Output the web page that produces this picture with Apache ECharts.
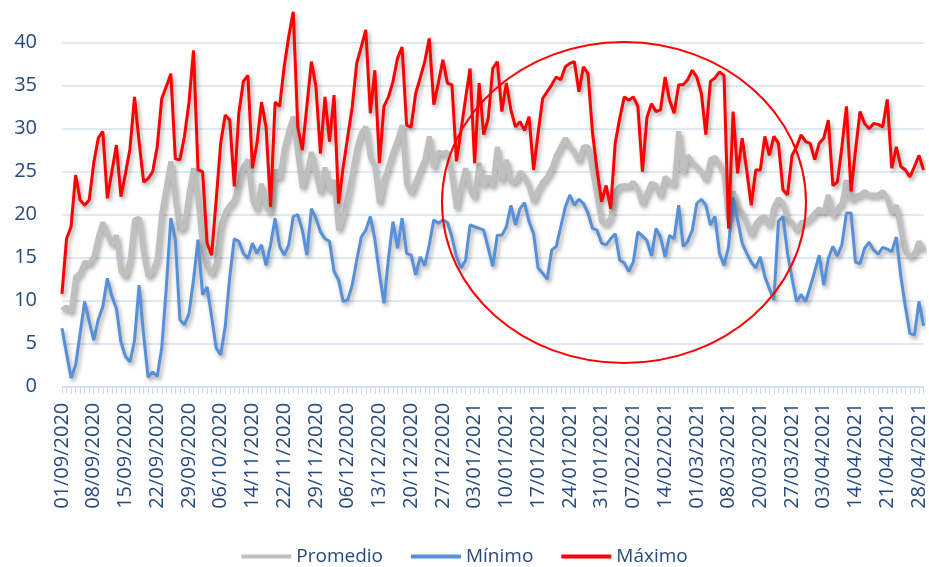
<!DOCTYPE html>
<html>
<head>
<meta charset="utf-8">
<script src="https://cdn.jsdelivr.net/npm/echarts@6/dist/echarts.min.js"></script>
<style>html,body{margin:0;padding:0;background:#fff;}#chart{width:929px;height:567px;}</style>
</head>
<body>
<div id="chart"></div>
<script>
const categories = [
'01/09/2020','02/09/2020','03/09/2020','04/09/2020','05/09/2020','06/09/2020','07/09/2020','08/09/2020','09/09/2020','10/09/2020',
'11/09/2020','12/09/2020','13/09/2020','14/09/2020','15/09/2020','16/09/2020','17/09/2020','18/09/2020','19/09/2020','20/09/2020',
'21/09/2020','22/09/2020','23/09/2020','24/09/2020','25/09/2020','26/09/2020','27/09/2020','28/09/2020','29/09/2020','30/09/2020',
'01/10/2020','02/10/2020','03/10/2020','04/10/2020','05/10/2020','06/10/2020','07/10/2020','08/10/2020','09/10/2020','10/10/2020',
'11/10/2020','12/10/2020',
'14/11/2020','15/11/2020','16/11/2020','17/11/2020','18/11/2020','19/11/2020','21/11/2020','22/11/2020','23/11/2020','24/11/2020',
'25/11/2020','26/11/2020','27/11/2020','28/11/2020','29/11/2020','30/11/2020',
'01/12/2020','02/12/2020','03/12/2020','04/12/2020','05/12/2020','06/12/2020','07/12/2020','08/12/2020','09/12/2020','10/12/2020',
'11/12/2020','12/12/2020','13/12/2020','14/12/2020','15/12/2020','16/12/2020','17/12/2020','18/12/2020','19/12/2020','20/12/2020',
'21/12/2020','22/12/2020','23/12/2020','24/12/2020','25/12/2020','26/12/2020','27/12/2020','28/12/2020','29/12/2020','30/12/2020',
'31/12/2020',
'01/01/2021','02/01/2021','03/01/2021','04/01/2021','05/01/2021','06/01/2021','07/01/2021','08/01/2021','09/01/2021','10/01/2021',
'11/01/2021','12/01/2021','13/01/2021','14/01/2021','15/01/2021','16/01/2021','17/01/2021','18/01/2021','19/01/2021','20/01/2021',
'21/01/2021','22/01/2021','23/01/2021','24/01/2021','25/01/2021','26/01/2021','27/01/2021','28/01/2021','29/01/2021','30/01/2021',
'31/01/2021',
'01/02/2021','02/02/2021','03/02/2021','04/02/2021','05/02/2021','06/02/2021','07/02/2021','08/02/2021','09/02/2021','10/02/2021',
'11/02/2021','12/02/2021','13/02/2021','14/02/2021','15/02/2021','16/02/2021','17/02/2021','18/02/2021','19/02/2021','20/02/2021',
'01/03/2021','02/03/2021','03/03/2021','04/03/2021','05/03/2021','06/03/2021','07/03/2021','08/03/2021','09/03/2021','10/03/2021',
'11/03/2021','12/03/2021','13/03/2021','14/03/2021',
'20/03/2021','21/03/2021','22/03/2021','23/03/2021','24/03/2021','25/03/2021','26/03/2021','27/03/2021','28/03/2021','29/03/2021',
'30/03/2021','31/03/2021',
'01/04/2021','02/04/2021','03/04/2021','04/04/2021','05/04/2021','06/04/2021','07/04/2021','08/04/2021','09/04/2021',
'14/04/2021','15/04/2021','16/04/2021','17/04/2021','18/04/2021','19/04/2021','20/04/2021','21/04/2021','22/04/2021','23/04/2021',
'24/04/2021','25/04/2021','26/04/2021','27/04/2021','28/04/2021','29/04/2021'
];

const promedio = [
8.9,9.3,8.7,12.8,13.2,14.5,14.3,15.1,17.4,19.1,17.8,16.5,17.6,13.4,12.8,14.7,19.4,19.6,15.5,12.8,13.4,14.9,20.2,23.3,26.2,
21.7,18.2,18.6,22.5,25.4,21.7,16.3,14.0,13.0,14.3,18.6,20.3,21.1,21.7,23.8,25.6,26.4,21.7,20.5,23.6,20.9,20.2,25.2,24.2,27.7,29.7,31.4,27.1,23.1,24.8,27.3,24.8,22.5,25.5,22.7,
24.0,18.2,19.8,22.1,24.8,27.7,29.5,30.2,26.7,25.6,21.3,24.0,25.6,27.3,28.7,30.4,23.6,22.5,23.8,25.2,26.4,29.1,25.4,27.3,27.1,27.3,24.4,20.7,23.3,25.4,22.9,21.9,26.0,23.3,24.5,
23.3,27.9,23.8,26.4,23.8,23.8,25.0,24.4,23.3,21.5,22.9,23.8,24.4,25.4,26.9,27.9,28.9,27.9,27.3,26.2,27.9,27.9,25.2,22.1,19.2,18.9,19.6,22.7,23.3,23.4,23.3,23.8,22.9,21.2,22.5,
23.7,23.4,22.1,24.4,23.8,23.4,29.7,24.8,26.9,26.0,25.6,25.0,24.0,26.4,26.7,25.8,24.8,19.4,22.7,20.9,20.2,19.0,17.6,19.0,19.6,19.8,18.6,20.9,21.9,21.3,19.4,
19.1,18.1,19.1,19.2,19.6,20.2,20.7,20.2,22.3,19.8,20.7,21.3,24.0,21.7,22.1,22.3,22.7,22.3,22.3,22.3,22.7,21.9,20.2,21.1,18.2,15.7,15.1,15.5,16.9,15.9
];

const minimo = [
6.8,3.9,1.0,2.5,6.2,9.9,7.6,5.4,7.8,9.3,12.6,10.5,9.1,5.2,3.5,2.9,5.4,11.8,6.0,1.1,1.7,1.2,4.5,11.5,19.6,
17.1,7.8,7.2,8.5,12.4,17.1,10.7,11.6,8.1,4.5,3.7,7.0,12.8,17.2,16.9,15.5,14.9,16.7,15.5,16.5,14.1,16.5,19.6,16.3,15.3,16.5,19.8,20.0,18.2,15.3,20.7,19.6,18.0,17.2,16.9,
13.4,12.4,9.9,10.1,11.8,14.7,17.4,18.2,19.8,17.1,13.2,9.7,14.9,19.2,16.1,19.6,15.5,15.3,13.0,15.1,14.1,16.5,19.4,19.0,19.4,19.1,17.4,15.1,13.8,14.7,18.8,18.6,18.4,18.2,16.1,
14.0,17.6,17.6,18.6,21.1,18.8,20.7,21.4,19.2,17.8,13.8,13.2,12.5,15.9,16.3,18.6,20.9,22.3,21.1,21.8,21.3,20.2,18.4,18.2,16.7,16.5,17.2,17.8,14.7,14.4,13.4,14.5,18.0,17.5,17.0,
15.2,18.4,17.4,15.1,17.6,17.2,21.1,16.3,16.9,18.2,21.3,21.8,21.1,18.8,19.8,15.5,14.1,16.3,22.0,19.4,16.7,15.5,14.5,13.8,15.1,12.8,11.4,10.1,19.2,19.8,15.5,
12.6,9.9,10.7,9.9,11.6,13.4,15.3,11.8,14.9,16.3,15.2,16.5,20.2,20.2,14.5,14.3,16.1,16.8,15.9,15.4,16.2,16.0,15.7,17.4,12.8,9.3,6.2,6.0,9.9,7.1
];

const maximo = [
10.8,17.2,18.6,24.6,21.7,21.1,21.7,26.0,28.9,29.7,21.9,25.0,28.1,22.1,24.8,27.7,33.7,28.5,23.8,24.2,25.0,27.9,33.5,34.9,36.4,
26.5,26.4,29.1,33.0,39.1,25.2,25.0,16.7,15.3,21.7,28.3,31.6,31.0,23.3,31.8,35.5,36.2,25.4,28.3,33.1,30.2,20.9,33.1,32.6,37.2,40.7,43.6,30.2,27.5,32.6,37.8,34.9,27.1,33.7,28.5,
33.9,21.3,25.5,29.0,32.5,37.6,39.5,41.5,31.8,36.8,26.0,32.6,33.7,35.5,38.2,39.5,30.4,30.2,34.1,35.9,37.8,40.5,32.8,35.3,38.0,35.3,35.1,26.2,29.8,33.5,37.0,26.0,35.3,29.3,31.2,
37.0,37.8,32.0,35.3,32.2,30.2,30.8,29.8,31.4,25.2,29.5,33.5,34.3,35.1,36.0,35.7,37.2,37.6,37.8,34.3,37.2,36.4,29.5,25.2,21.5,23.4,20.7,28.3,31.2,33.7,33.3,33.7,32.6,25.0,31.3,
32.9,32.0,32.2,36.0,33.3,31.8,35.1,35.1,35.7,36.8,36.0,34.1,29.3,35.5,35.9,36.6,36.2,18.4,32.0,24.8,28.9,25.2,21.1,25.2,25.2,29.1,26.9,29.1,28.3,22.9,22.3,
26.9,27.9,29.3,28.5,28.3,26.4,28.3,28.9,31.0,23.4,23.8,27.9,32.6,22.7,27.5,32.0,30.6,30.0,30.6,30.5,30.2,33.4,25.4,27.9,25.6,25.2,24.4,25.6,26.9,25.2
];

const seriesNames = ['Promedio', 'Mínimo', 'Máximo'];
const yTicks = { min: 0, max: 40, interval: 5 };

const textColor = '#264a7e';
const fontFamily = '"Open Sans", "Liberation Sans", sans-serif';
const shadow = { shadowColor: 'rgba(0,0,0,0.35)', shadowBlur: 4, shadowOffsetX: 2, shadowOffsetY: 3 };

const chart = echarts.init(document.getElementById('chart'), null, { renderer: 'canvas' });
chart.setOption({
  animation: false,
  backgroundColor: '#ffffff',
  textStyle: { fontFamily: fontFamily },
  grid: { left: 62, right: 4, top: 42.7, bottom: 180.3, containLabel: false },
  legend: {
    data: seriesNames,
    bottom: -4,
    left: 'center',
    icon: 'rect',
    itemWidth: 50,
    itemHeight: 4,
    itemGap: 28,
    textStyle: { color: textColor, fontSize: 19, fontFamily: fontFamily, padding: [0, 0, 0, 0] }
  },
  xAxis: {
    type: 'category',
    data: categories,
    boundaryGap: false,
    axisLine: { show: true, lineStyle: { color: '#d5e0f0', width: 1.5 } },
    axisTick: { show: true, interval: 0, length: 7, lineStyle: { color: '#cbd9ee', width: 1 } },
    axisLabel: { interval: 6, rotate: 90, margin: 16, color: textColor, fontSize: 20, fontFamily: fontFamily }
  },
  yAxis: {
    type: 'value',
    min: yTicks.min,
    max: yTicks.max,
    interval: yTicks.interval,
    axisLine: { show: false },
    axisTick: { show: false },
    axisLabel: { margin: 25, color: textColor, fontSize: 20, fontFamily: fontFamily },
    splitLine: { show: true, lineStyle: { color: '#d5e0f0', width: 1.5 } }
  },
  series: [
    { name: seriesNames[0], type: 'line', data: promedio, symbol: 'none', color: '#bfbfbf', clip: false,
      lineStyle: Object.assign({ color: '#bfbfbf', width: 5 }, shadow) },
    { name: seriesNames[1], type: 'line', data: minimo, symbol: 'none', color: '#5590d8', clip: false,
      lineStyle: Object.assign({ color: '#5590d8', width: 3 }, shadow) },
    { name: seriesNames[2], type: 'line', data: maximo, symbol: 'none', color: '#ff0000', clip: false,
      lineStyle: Object.assign({ color: '#ff0000', width: 3 }, shadow) }
  ],
  graphic: [
    { type: 'ellipse', shape: { cx: 624, cy: 202.5, rx: 182, ry: 160.5 }, z: 100,
      style: { fill: 'none', stroke: '#ff0000', lineWidth: 2 } }
  ]
});
</script>
</body>
</html>
